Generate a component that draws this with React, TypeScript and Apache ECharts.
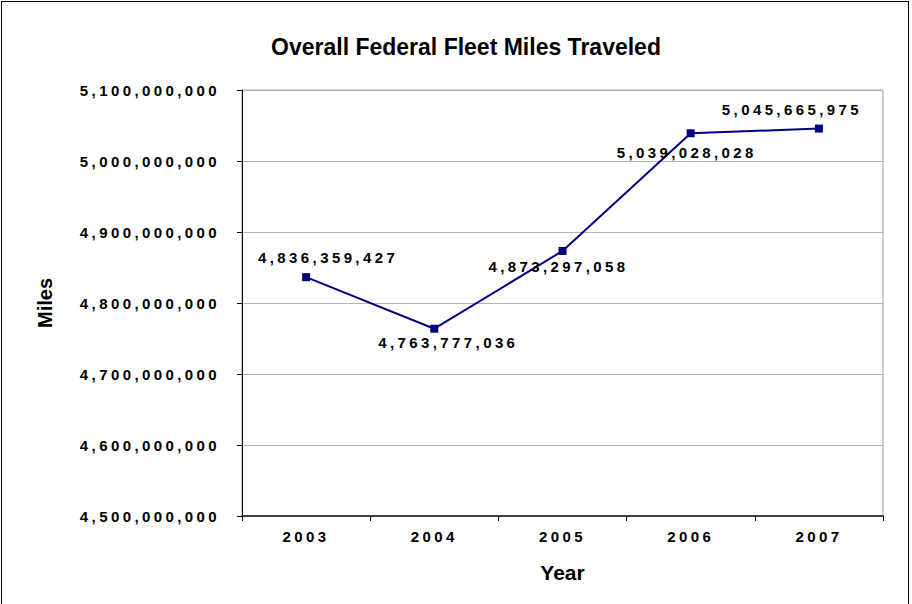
import React, { useEffect, useRef } from "react";
import * as echarts from "echarts";

const years: string[] = ["2003", "2004", "2005", "2006", "2007"];
const miles: number[] = [4836359427, 4763777036, 4873297058, 5039028028, 5045665975];
const yMin = 4500000000;
const yMax = 5100000000;
const yStep = 100000000;
const chartTitle = "Overall Federal Fleet Miles Traveled";
const xName = "Year";
const yName = "Miles";

const FONT = "'Liberation Sans', Arial, sans-serif";
const SPACING = "3.4px";

const fmt = (v: number) => Math.round(v).toLocaleString("en-US");

export default function App() {
  const ref = useRef<HTMLDivElement>(null);
  useEffect(() => {
    document.body.style.margin = "0";
    if (!ref.current) return;
    const chart = echarts.init(ref.current, null, { renderer: "svg" });
    const labelOffsets: [number, number][] = [
      [22, -20],
      [14, 14],
      [-4, 16],
      [-4, 19],
      [-27, -19],
    ];
    chart.setOption({
      animation: false,
      backgroundColor: "transparent",
      title: {
        text: chartTitle,
        left: 461,
        textAlign: "center",
        top: 30,
        textStyle: { fontFamily: FONT, fontSize: 23, fontWeight: "bold", color: "#000" },
      },
      grid: {
        left: 242,
        right: 29,
        top: 90,
        bottom: 88,
        show: true,
        borderColor: "#a0a0a0",
        borderWidth: 1,
        backgroundColor: "transparent",
      },
      xAxis: {
        type: "category",
        data: years,
        boundaryGap: true,
        name: xName,
        nameLocation: "middle",
        nameGap: 46,
        nameTextStyle: { fontFamily: FONT, fontSize: 21, fontWeight: "bold", color: "#000" },
        axisLine: { show: true, lineStyle: { color: "#404040", width: 2 } },
        axisTick: { show: true, length: 5, lineStyle: { color: "#000", width: 1 } },
        axisLabel: { fontFamily: FONT, fontSize: 15, fontWeight: "bold", color: "#000", margin: 13 },
        splitLine: { show: false },
      },
      yAxis: {
        type: "value",
        min: yMin,
        max: yMax,
        interval: yStep,
        name: yName,
        nameLocation: "middle",
        nameRotate: 90,
        nameGap: 187,
        nameTextStyle: { fontFamily: FONT, fontSize: 20, fontWeight: "bold", color: "#000" },
        axisLine: { show: true, lineStyle: { color: "#000", width: 1 } },
        axisTick: { show: true, length: 5, lineStyle: { color: "#000", width: 1 } },
        axisLabel: {
          fontFamily: FONT,
          fontSize: 15,
          fontWeight: "bold",
          color: "#000",
          margin: 22,
          formatter: (v: number) => fmt(v),
        },
        splitLine: { show: true, lineStyle: { color: "#b4b4b4", width: 1 } },
      },
      series: [
        {
          type: "line",
          data: miles.map((v, i) => ({
            value: v,
            label: { position: "inside", offset: labelOffsets[i] },
          })),
          symbol: "rect",
          symbolSize: 8,
          lineStyle: { color: "#000080", width: 2 },
          itemStyle: { color: "#000080" },
          label: {
            show: true,
            fontFamily: FONT,
            fontSize: 15,
            fontWeight: "bold",
            color: "#000",
            formatter: (p: any) => fmt(p.value),
          },
        },
      ],
    });
    const applySpacing = () => {
      if (!ref.current) return;
      ref.current.querySelectorAll("text").forEach((t) => {
        const s = (t.textContent || "").trim();
        if (/^[\d,]+$/.test(s)) {
          (t as SVGTextElement).style.letterSpacing = SPACING;
        }
      });
    };
    chart.on("finished", applySpacing);
    applySpacing();
    const timer = setTimeout(applySpacing, 50);
    return () => {
      clearTimeout(timer);
      chart.dispose();
    };
  }, []);
  return (
    <div style={{ position: "relative", width: 912, height: 604, overflow: "hidden", background: "#fff" }}>
      <div ref={ref} style={{ position: "absolute", left: 0, top: 0, width: 912, height: 604 }} />
      <div
        style={{
          position: "absolute",
          left: 1,
          top: 1,
          width: 908,
          height: 640,
          border: "1px solid #000",
          boxSizing: "border-box",
          pointerEvents: "none",
        }}
      />
    </div>
  );
}
